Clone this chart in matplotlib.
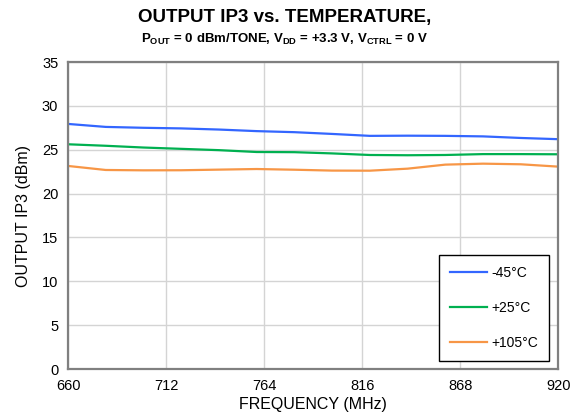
import numpy as np
import matplotlib
matplotlib.use("Agg")
import matplotlib.pyplot as plt

plt.rcParams['font.family'] = ['Liberation Sans', 'DejaVu Sans']
plt.rcParams['mathtext.fontset'] = 'custom'
plt.rcParams['mathtext.rm'] = 'Liberation Sans'
plt.rcParams['mathtext.bf'] = 'Liberation Sans:bold'

freq = [660, 680, 700, 720, 740, 760, 780, 800, 820, 840, 860, 880, 900, 920]
ip3_m45 = [27.94, 27.6, 27.5, 27.43, 27.3, 27.12, 27.0, 26.8, 26.58, 26.6, 26.58, 26.52, 26.34, 26.2]
ip3_p25 = [25.62, 25.45, 25.25, 25.1, 24.95, 24.74, 24.72, 24.58, 24.4, 24.37, 24.4, 24.5, 24.5, 24.48]
ip3_p105 = [23.15, 22.69, 22.65, 22.66, 22.73, 22.8, 22.72, 22.62, 22.61, 22.84, 23.3, 23.41, 23.34, 23.07]
labels = ["-45°C", "+25°C", "+105°C"]
colors = ["#3366ff", "#00b050", "#f79646"]
xticks = [660, 712, 764, 816, 868, 920]
yticks = [0, 5, 10, 15, 20, 25, 30, 35]

fig = plt.figure(figsize=(5.7, 4.15), dpi=100)
ax = fig.add_axes([0.1193, 0.1108, 0.8605, 0.7398])

for ys, lab, c in zip([ip3_m45, ip3_p25, ip3_p105], labels, colors):
    ax.plot(freq, ys, color=c, lw=1.6, label=lab)

ax.set_xlim(660, 920)
ax.set_ylim(0, 35)
ax.set_xticks(xticks)
ax.set_yticks(yticks)
ax.grid(True, color="#d4d4d4", lw=1.0)
ax.set_axisbelow(True)
ax.tick_params(length=0, labelsize=10.5, pad=7)
for s in ax.spines.values():
    s.set_color("#808080")
    s.set_linewidth(1.6)

ax.set_xlabel("FREQUENCY (MHz)", fontsize=11.5, labelpad=3)
ax.set_ylabel("OUTPUT IP3 (dBm)", fontsize=11.5, labelpad=8)

fig.text(0.5, 0.958, "OUTPUT IP3 vs. TEMPERATURE,", ha="center", va="center",
         fontsize=13.5, fontweight="bold")
fig.text(0.5, 0.905,
         r"P$_{\mathbf{OUT}}$ = 0 dBm/TONE, V$_{\mathbf{DD}}$ = +3.3 V, V$_{\mathbf{CTRL}}$ = 0 V",
         ha="center", va="center", fontsize=9.5, fontweight="bold")

leg = ax.legend(loc="lower right", bbox_to_anchor=(0.981, 0.026), fontsize=10,
                frameon=True, fancybox=False, edgecolor="black", framealpha=1,
                handlelength=2.7, handletextpad=0.3, labelspacing=1.5,
                borderpad=0.8, borderaxespad=0)
leg.get_frame().set_linewidth(1.0)

fig.savefig("out.png", dpi=100)
